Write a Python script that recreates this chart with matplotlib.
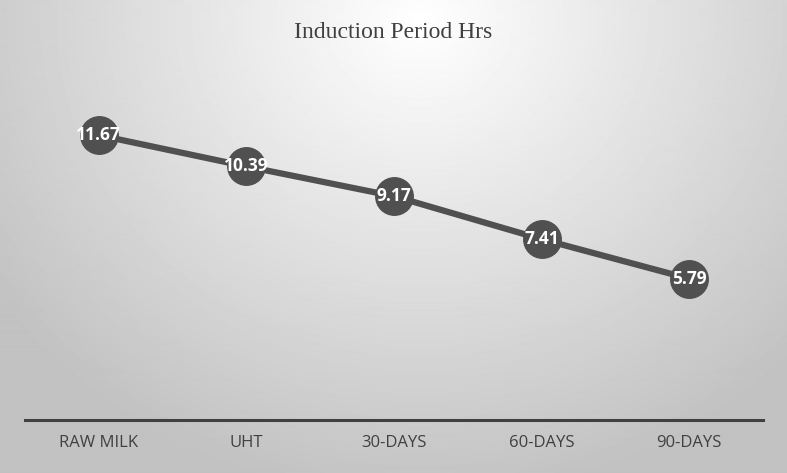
import numpy as np
import matplotlib.pyplot as plt

categories = ["RAW MILK", "UHT", "30-DAYS", "60-DAYS", "90-DAYS"]
induction_hrs = [11.67, 10.39, 9.17, 7.41, 5.79]

fig = plt.figure(figsize=(7.87, 4.73), dpi=100)

# radial grey gradient background
bg = fig.add_axes([0, 0, 1, 1], zorder=0)
yy, xx = np.mgrid[0:473, 0:787]
r = np.sqrt(((xx - 420) / 540.0) ** 2 + ((yy - 20) / 500.0) ** 2)
shade = np.clip(1.0 - 0.25 * r, 0.76, 1.0)
bg.imshow(shade, cmap="gray", vmin=0, vmax=1, aspect="auto", interpolation="bilinear")
bg.axis("off")

ax = fig.add_axes([25 / 787, 53 / 473, 738 / 787, 349 / 473], zorder=1)
ax.patch.set_alpha(0)
x = np.arange(len(categories))
ax.plot(x, induction_hrs, color="#505050", lw=4.5, marker="o", ms=27,
        mfc="#505050", mec="#505050", solid_capstyle="round")
for xi, v in zip(x, induction_hrs):
    ax.text(xi, v, f"{v:.2f}", ha="center", va="center", color="white",
            fontsize=12.5, fontweight="bold", family="Open Sans")

ax.set_xlim(-0.5, 4.5)
ax.set_ylim(0, 14.3)
ax.set_yticks([])
ax.set_xticks(x)
ax.set_xticklabels(categories, fontsize=12, color="#404040", family="Open Sans")
ax.tick_params(axis="x", length=0, pad=11)
for s in ["top", "right", "left"]:
    ax.spines[s].set_visible(False)
ax.spines["bottom"].set_color("#404040")
ax.spines["bottom"].set_linewidth(2.2)

fig.text(0.5, 1 - 33 / 473, "Induction Period Hrs", ha="center", va="center",
         fontsize=17, color="#404040", family="Liberation Serif")

fig.savefig("out.png", dpi=100)
